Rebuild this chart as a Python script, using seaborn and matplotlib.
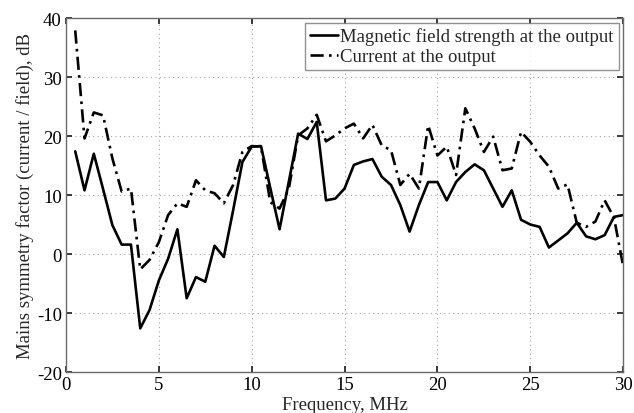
import numpy as np
import pandas as pd
import matplotlib
matplotlib.use("Agg")
import matplotlib.pyplot as plt
import seaborn as sns

# Frequency grid, MHz
freq = [0.5, 1.0, 1.5, 2.0, 2.5, 3.0, 3.5, 4.0, 4.5, 5.0,
        5.5, 6.0, 6.5, 7.0, 7.5, 8.0, 8.5, 9.0, 9.5, 10.0,
        10.5, 11.0, 11.5, 12.0, 12.5, 13.0, 13.5, 14.0, 14.5, 15.0,
        15.5, 16.0, 16.5, 17.0, 17.5, 18.0, 18.5, 19.0, 19.5, 20.0,
        20.5, 21.0, 21.5, 22.0, 22.5, 23.0, 23.5, 24.0, 24.5, 25.0,
        25.5, 26.0, 26.5, 27.0, 27.5, 28.0, 28.5, 29.0, 29.5, 30.0]

# Symmetry factor from magnetic field strength at the output, dB
field_db = [17.4, 10.8, 17.0, 11.0, 4.9, 1.6, 1.6, -12.6, -9.5, -4.5,
            -0.8, 4.2, -7.5, -3.9, -4.7, 1.4, -0.5, 7.4, 15.6, 18.2,
            18.3, 11.2, 4.2, 12.3, 20.4, 19.5, 22.4, 9.1, 9.4, 11.1,
            15.1, 15.7, 16.1, 13.1, 11.7, 8.3, 3.8, 8.3, 12.2, 12.2,
            9.1, 12.2, 13.9, 15.2, 14.2, 11.1, 8.0, 10.8, 5.8, 5.0,
            4.6, 1.1, 2.3, 3.5, 5.3, 3.0, 2.5, 3.2, 6.3, 6.6]

# Symmetry factor from current at the output, dB
current_db = [37.9, 19.6, 24.0, 23.5, 16.2, 10.6, 11.1, -2.6, -1.0, 2.0,
              6.6, 8.6, 8.0, 12.5, 10.8, 10.3, 8.6, 11.7, 17.3, 18.3,
              18.2, 8.8, 7.7, 11.1, 20.1, 21.3, 23.6, 19.1, 20.1, 21.3,
              22.1, 19.6, 21.9, 18.4, 17.6, 11.7, 13.6, 11.1, 21.8, 16.7,
              18.2, 13.4, 24.7, 21.3, 17.3, 19.9, 14.2, 14.5, 20.7, 19.0,
              16.7, 14.8, 11.1, 11.8, 5.3, 4.6, 5.5, 9.1, 6.2, -2.1]

labels = ["Magnetic field strength at the output", "Current at the output"]
x_ticks = [0, 5, 10, 15, 20, 25, 30]
y_ticks = [-20, -10, 0, 10, 20, 30, 40]

df = pd.DataFrame({
    "freq": freq * 2,
    "value": field_db + current_db,
    "series": [labels[0]] * len(freq) + [labels[1]] * len(freq),
})

sns.set_theme(style="white")
plt.rcParams["font.family"] = ["Liberation Serif", "DejaVu Serif"]
plt.rcParams["axes.unicode_minus"] = False

FS = 13.5

fig = plt.figure(figsize=(6.34, 4.14), dpi=100)
ax = fig.add_axes([0.104, 0.099, 0.879, 0.855])

sns.lineplot(data=df, x="freq", y="value", hue="series", style="series",
             palette=["black", "black"],
             dashes={labels[0]: "", labels[1]: (5, 2, 1, 2)},
             linewidth=1.9, ax=ax, legend=True)

ax.set_xlim(0, 30)
ax.set_ylim(-20, 40)
ax.set_xticks(x_ticks)
ax.set_yticks(y_ticks)
ax.tick_params(axis="both", which="both", direction="in", length=4,
               labelsize=FS, colors="#222222", top=True, right=True,
               bottom=True, left=True, pad=3)
for t in ax.get_xticklabels() + ax.get_yticklabels():
    t.set_color("black")

ax.grid(True, linestyle=(0, (1, 3)), color="#a5a5a5", linewidth=0.8)
for sp in ax.spines.values():
    sp.set_visible(True)
    sp.set_color("#6a6a6a")
    sp.set_linewidth(1.0)

ax.set_xlabel("Frequency, MHz", fontsize=FS, labelpad=2)
ax.set_ylabel("Mains symmetry factor (current / field), dB", fontsize=FS,
              labelpad=2)

leg = ax.legend(loc="upper right", fontsize=FS, frameon=True,
                fancybox=False, handlelength=1.5, handletextpad=0.15,
                borderpad=0.25, labelspacing=0.15, borderaxespad=0.25)
leg.get_frame().set_edgecolor("#777777")
leg.get_frame().set_linewidth(1.0)

fig.savefig("out.png", dpi=100)
